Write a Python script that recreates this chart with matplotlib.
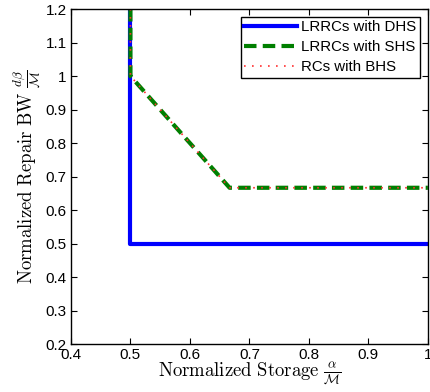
import matplotlib
matplotlib.use("Agg")
import matplotlib.pyplot as plt

plt.rcParams['mathtext.fontset'] = 'cm'
plt.rcParams['font.family'] = ['Liberation Sans', 'DejaVu Sans']

# data
dhs_x = [0.5, 0.5, 1.0]
dhs_y = [1.2, 0.5, 0.5]
shs_x = [0.5, 0.5, 2/3, 1.0]
shs_y = [1.2, 1.0, 2/3, 2/3]
bhs_x = [0.5, 0.5, 2/3, 1.0]
bhs_y = [1.2, 1.0, 2/3, 2/3]
labels = ['LRRCs with DHS', 'LRRCs with SHS', 'RCs with BHS']
xticks = [0.4, 0.5, 0.6, 0.7, 0.8, 0.9, 1.0]
xticklabels = ['0.4', '0.5', '0.6', '0.7', '0.8', '0.9', '1']
yticks = [0.2, 0.3, 0.4, 0.5, 0.6, 0.7, 0.8, 0.9, 1.0, 1.1, 1.2]
yticklabels = ['0.2', '0.3', '0.4', '0.5', '0.6', '0.7', '0.8', '0.9', '1', '1.1', '1.2']

fig = plt.figure(figsize=(4.3, 3.92), dpi=100)
ax = fig.add_axes([0.165, 0.122, 0.83, 0.855])

ax.plot(dhs_x, dhs_y, color='#0000ff', lw=3, label=labels[0])
ax.plot(shs_x, shs_y, color='#007f00', lw=3, ls=(0, (3, 1.5)), label=labels[1])
ax.plot(bhs_x, bhs_y, color='#ff3030', lw=1.2, ls=(0, (1, 3.8)), label=labels[2])

ax.set_xlim(0.4, 1.0)
ax.set_ylim(0.2, 1.2)
ax.set_xticks(xticks)
ax.set_xticklabels(xticklabels)
ax.set_yticks(yticks)
ax.set_yticklabels(yticklabels)
ax.tick_params(direction='in', top=True, right=True, labelsize=11, length=4, width=0.8, pad=3)
for s in ax.spines.values():
    s.set_linewidth(1.0)

ax.set_xlabel(r'$\mathrm{Normalized\ Storage}\ \frac{\alpha}{\mathcal{M}}$', fontsize=13.5, labelpad=-1)
ax.set_ylabel(r'$\mathrm{Normalized\ Repair\ BW}\ \frac{d\beta}{\mathcal{M}}$', fontsize=13.5, labelpad=1)

leg = ax.legend(loc='upper right', fontsize=10.8, frameon=True, fancybox=False,
                edgecolor='black', framealpha=1, borderaxespad=0.5,
                handlelength=3.5, handletextpad=0.3, labelspacing=0.4, borderpad=0.25)
leg.get_frame().set_linewidth(1.0)

fig.savefig('out.png', dpi=100)
